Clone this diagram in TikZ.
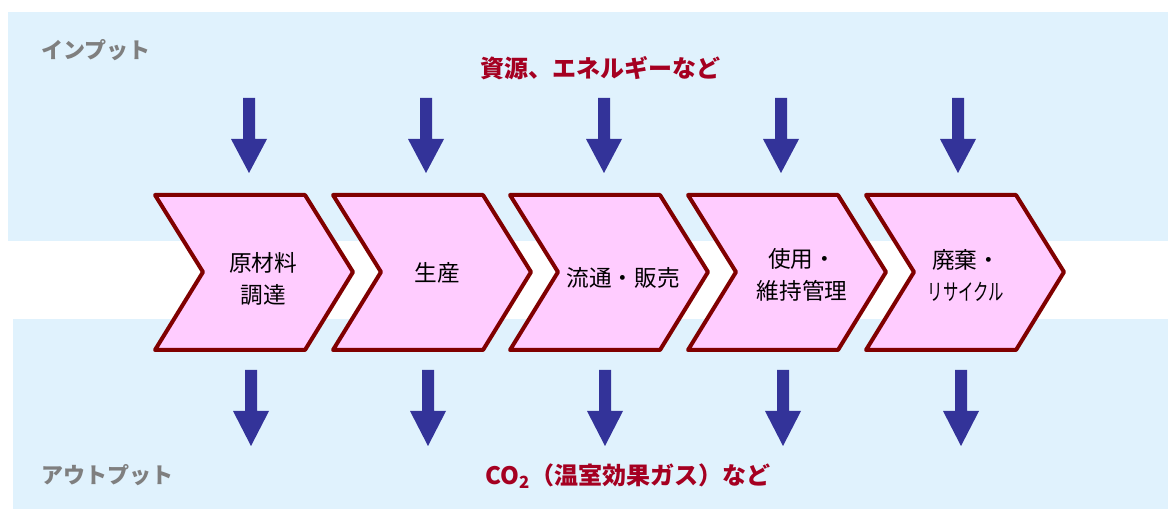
\documentclass[tikz,border=0pt]{standalone}
\usepackage{fontspec}
\setmainfont{Noto Sans CJK JP}
\definecolor{bgblue}{HTML}{E0F2FD}
\definecolor{chevfill}{HTML}{FFCCFF}
\definecolor{chevline}{HTML}{800000}
\definecolor{arrowblue}{HTML}{333399}
\definecolor{titlered}{HTML}{A50021}
\definecolor{labelgray}{HTML}{7F7F7F}
\tikzset{
  bgband/.style={fill=bgblue, draw=none},
  chevron/.style={fill=chevfill, draw=chevline, line width=3pt, line join=round},
  chevtext/.style={font=\fontsize{17pt}{24pt}\selectfont, align=center, inner sep=0pt, text=black},
  sidelabel/.style={font=\fontsize{16.5pt}{19pt}\selectfont\bfseries, text=labelgray, anchor=west, inner sep=0pt},
  flowlabel/.style={font=\fontsize{18pt}{22pt}\selectfont\bfseries, text=titlered, inner sep=0pt},
  blockarrow/.style={fill=arrowblue, draw=none},
}
\newcommand{\chevronpath}[1]{%
  (#1,195) -- ++(150,0) -- ++(48,77) -- ++(-48,78) -- ++(-150,0) -- ++(48,-78) -- cycle}
\newcommand{\downarrowshape}[4]{% x, top, headstart, tip
  (#1-6,#2) -- (#1+6,#2) -- (#1+6,#3) -- (#1+18,#3) -- (#1,#4) -- (#1-18,#3) -- (#1-6,#3) -- cycle}
\begin{document}
\begin{tikzpicture}[x=0.75pt, y=-0.75pt]
\useasboundingbox (0,0) rectangle (1168,509);
% background bands
\fill[bgband] (8,12) rectangle (1168,241);
\fill[bgband] (13,319) rectangle (1168,509);
% labels
\node[sidelabel] (inlabel) at (41,50) {インプット};
\node[sidelabel] (outlabel) at (41,475) {アウトプット};
\node[flowlabel] (intitle) at (600,68) {資源、エネルギーなど};
\node[flowlabel, anchor=west] (outtitle) at (485,476) {CO\textsubscript{2}（温室効果ガス）など};
% input arrows
\foreach \x in {249,426,604,781,958} {
  \fill[blockarrow] \downarrowshape{\x}{98}{139}{173};
}
% output arrows
\foreach \x in {251,428,605,783,961} {
  \fill[blockarrow] \downarrowshape{\x}{370}{411}{446};
}
% chevrons
\foreach \L in {155,333,510,688,866} {
  \draw[chevron] \chevronpath{\L};
}
\node[chevtext] (s1) at (263,279) {原材料\\調達};
\node[chevtext] (s2) at (437,273) {生産};
\node[chevtext] (s3) at (623,278) {流通・販売};
\node[chevtext] (s4) at (802,275) {使用・\\維持管理};
\node[chevtext] (s5) at (966,276) {廃棄・\\\scalebox{0.68}[1]{リサイクル}};
\end{tikzpicture}
\end{document}
